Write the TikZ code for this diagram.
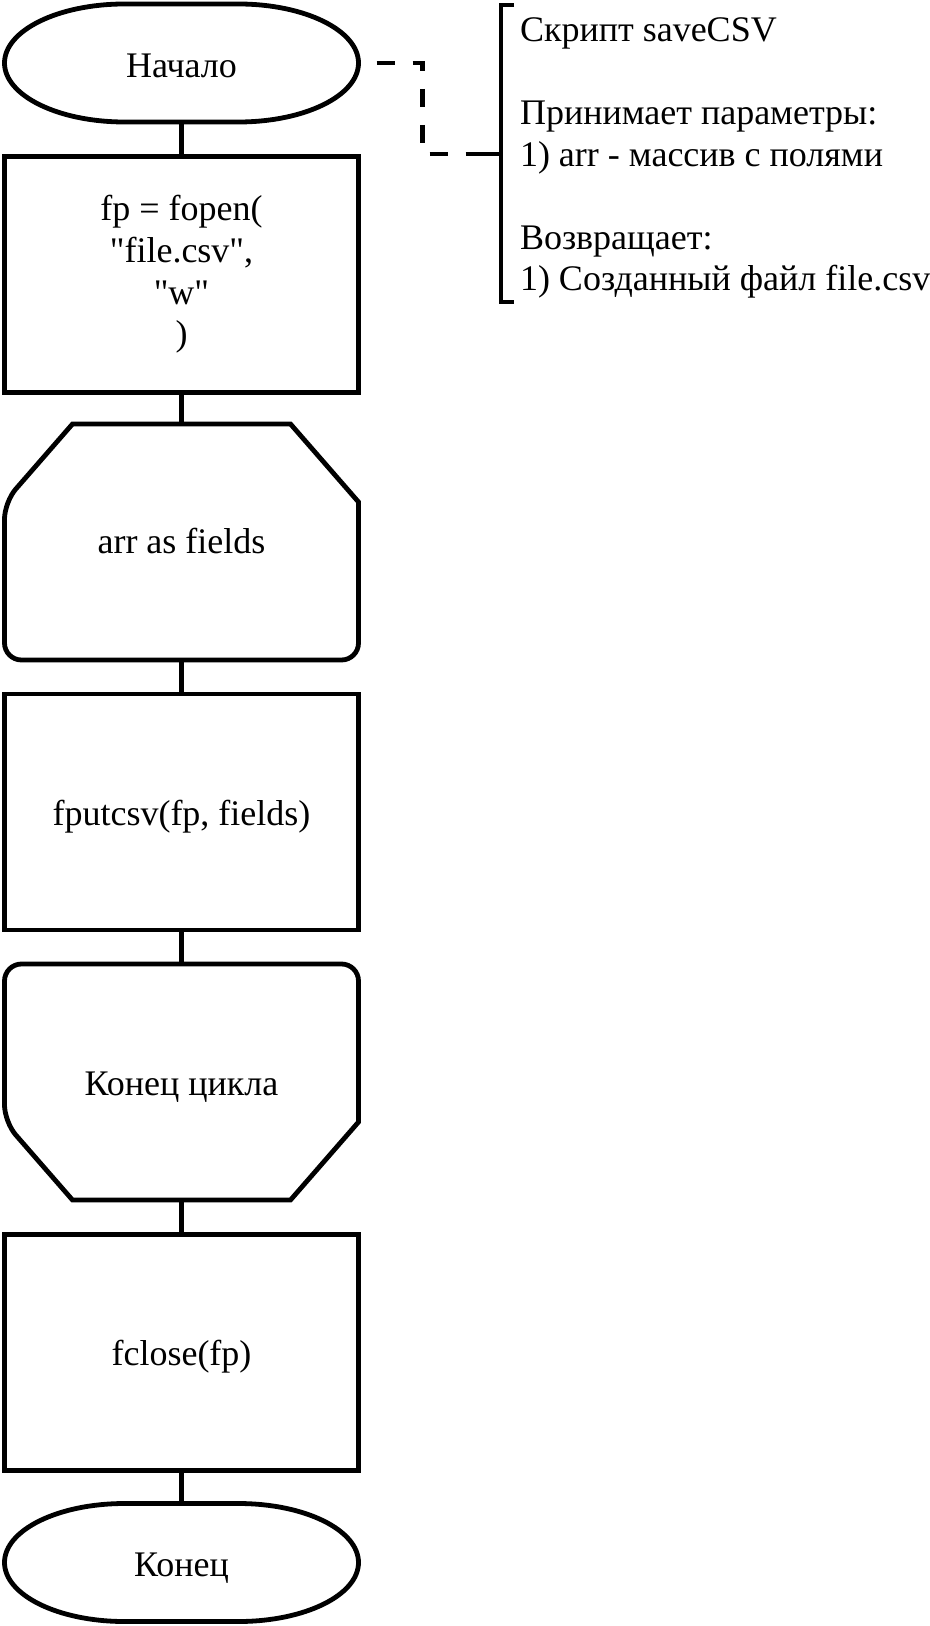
\documentclass[tikz,border=0pt]{standalone}
\usepackage{fontspec}
\setmainfont{Liberation Serif}[Ligatures=TeXOff]
\usetikzlibrary{calc}

\begin{document}
\begin{tikzpicture}[x=0.5pt,y=-0.5pt]
	\tikzstyle{every node}=[font=\fontsize{18pt}{20.8pt}\selectfont, align=center, inner sep=0pt, outer sep=0pt]
	\tikzstyle{flow}=[line width=2.4pt, black]
	\tikzstyle{oneline}=[text height=14.4pt, text depth=1.4pt]
	\tikzstyle{proc}=[rectangle, draw, flow, minimum width=177pt, minimum height=118pt]
	\tikzstyle{loopbox}=[rectangle, oneline, minimum width=177pt, minimum height=118pt]
	\tikzstyle{term}=[rectangle, oneline, minimum width=177pt, minimum height=59pt]
	\tikzstyle{note}=[align=left, anchor=north west]
	\tikzstyle{dashline}=[line width=2.4pt, dash pattern=on 9pt off 9pt, dash phase=9pt]

	\path[use as bounding box, fill=white] (0,0) rectangle (930,1626);

	%-----blocks
	\node[term, text depth=0pt]    (start) at (181.5,63)     {Начало};
	\node[proc, yshift=-1.5pt]     (open)  at (181.5,271.5)  {fp = fopen(\\"file.csv",\\"w"\\)};
	\node[loopbox, text depth=3pt] (loopA) at (181.5,542)    {arr as fields};
	\node[proc, oneline]           (put)   at (181.5,812)    {fputcsv(fp, fields)};
	\node[loopbox]                 (loopB) at (181.5,1082)   {Конец цикла};
	\node[proc, oneline]           (close) at (181.5,1352.5) {fclose(fp)};
	\node[term, text depth=0pt]    (stop)  at (181.5,1562.5) {Конец};

	%-----outlines
	\foreach \t in {start,stop}
	\draw[flow] ([xshift=60pt]\t.north west) -- ([xshift=-60pt]\t.north east)
		arc[start angle=90, end angle=-90, x radius=60pt, y radius=29.5pt]
		-- ([xshift=60pt]\t.south west)
		arc[start angle=270, end angle=90, x radius=60pt, y radius=29.5pt] -- cycle;

	\draw[flow] ([xshift=34pt]loopA.north west) -- ([xshift=-34pt]loopA.north east)
		-- ([yshift=-39pt]loopA.north east) [rounded corners=8.5pt] -- (loopA.south east)
		-- (loopA.south west) -- ([yshift=-39pt]loopA.north west) [sharp corners] -- cycle;

	\draw[flow] ([xshift=34pt]loopB.south west) -- ([xshift=-34pt]loopB.south east)
		-- ([yshift=39pt]loopB.south east) [rounded corners=8.5pt] -- (loopB.north east)
		-- (loopB.north west) -- ([yshift=39pt]loopB.south west) [sharp corners] -- cycle;

	%-----links
	\foreach \from/\to in {start/open,open/loopA,loopA/put,put/loopB,loopB/close,close/stop}
	\draw[flow] (\from) -- (\to);

	%-----comment
	\node[note] (info) at (520,17.5) {Скрипт saveCSV\\\mbox{}\\Принимает параметры:\\1) arr - массив с полями\\\mbox{}\\Возвращает:\\1) Созданный файл file.csv};
	\draw[flow] (514,5) -- (501,5) -- (501,302) -- (514,302) (481,154) -- (501,154);
	\coordinate (brk) at (481,154);
	\draw[dashline] (start.east) -- ++(64,0) |- (brk);
\end{tikzpicture}
\end{document}
